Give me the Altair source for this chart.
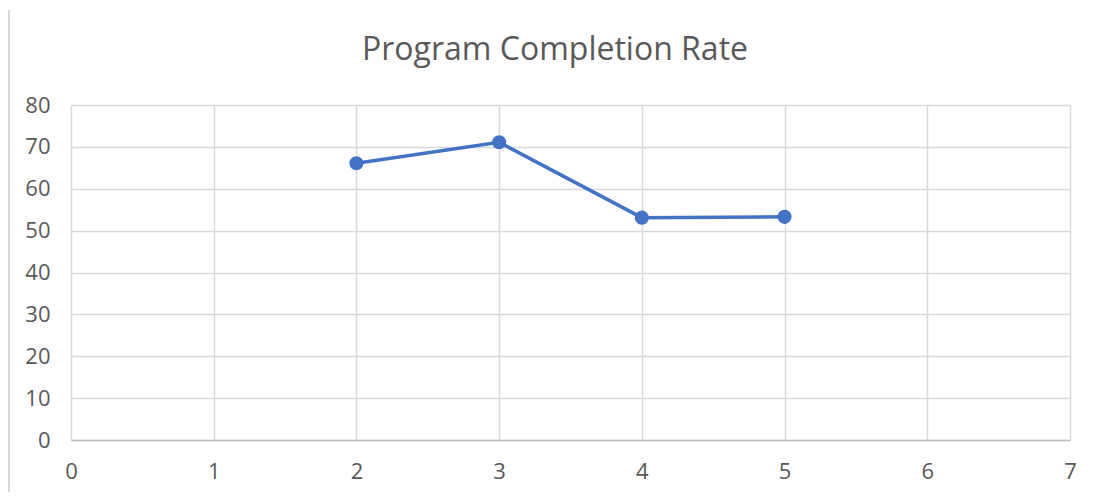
import altair as alt
import pandas as pd

x_vals = [2, 3, 4, 5]
rates = [66.1, 71.1, 53.1, 53.3]
title_text = "Program Completion Rate"

df = pd.DataFrame({"x": x_vals, "rate": rates})

FONT = "Open Sans"
GRAY_TXT = "#595959"
BLUE = "#4472C4"

base = alt.Chart(df)

line = base.mark_line(color=BLUE, strokeWidth=3.5).encode(
    x=alt.X("x:Q", scale=alt.Scale(domain=[0, 7], nice=False),
            axis=alt.Axis(values=list(range(0, 8)), format="d", title=None, grid=True,
                          gridColor="#d9d9d9", gridWidth=1.5,
                          domainColor="#bfbfbf", domainWidth=1.5,
                          ticks=False, labelFont=FONT, labelFontSize=22,
                          labelColor=GRAY_TXT, labelPadding=21, labelFlush=False)),
    y=alt.Y("rate:Q", scale=alt.Scale(domain=[0, 80], nice=False),
            axis=alt.Axis(values=list(range(0, 90, 10)), format="d", title=None, grid=True,
                          gridColor="#d9d9d9", gridWidth=1.5,
                          domain=False, ticks=False, labelFont=FONT,
                          labelFontSize=22, labelColor=GRAY_TXT, labelPadding=21,
                          labelFlush=False)),
)

points = base.mark_circle(color=BLUE, size=200, opacity=1).encode(
    x="x:Q", y="rate:Q"
)

border = alt.Chart(pd.DataFrame({"a": [0]})).mark_rule(
    color="#d9d9d9", strokeWidth=2
).encode(x=alt.value(-62), y=alt.value(-95), y2=alt.value(400))

title = alt.Chart(pd.DataFrame({"t": [title_text]})).mark_text(
    font=FONT, fontSize=32, color=GRAY_TXT, align="center", baseline="alphabetic"
).encode(text="t:N", x=alt.value(484), y=alt.value(-45))

chart = alt.layer(border, line, points, title).properties(
    width=999,
    height=335,
    autosize=alt.AutoSizeParams(type="none"),
    padding={"left": 63, "top": 97, "right": 16, "bottom": 52},
).configure_view(stroke=None)

chart.save("out.html", embed_options={"renderer": "svg", "actions": False})
